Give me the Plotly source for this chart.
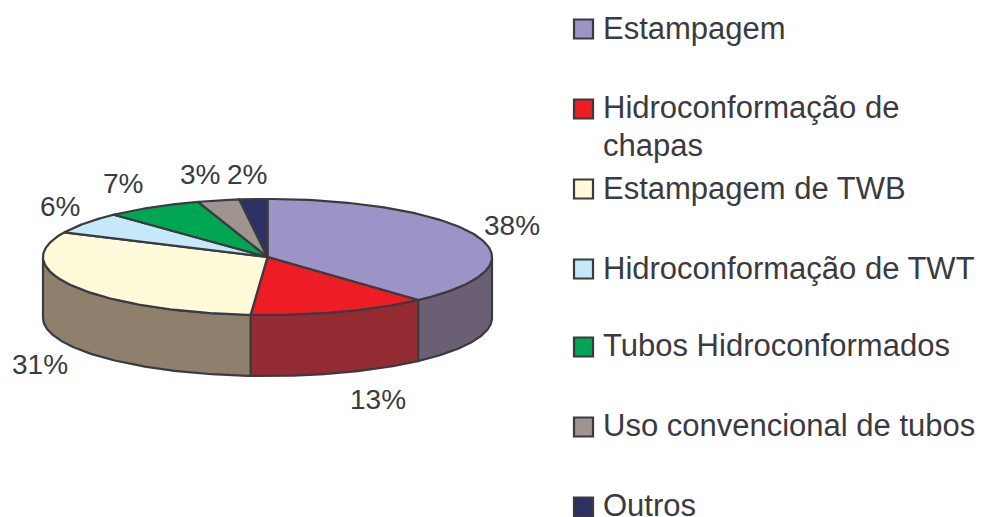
import numpy as np
import plotly.graph_objects as go

categories = ["Estampagem", "Hidroconformação de<br>chapas", "Estampagem de TWB",
              "Hidroconformação de TWT", "Tubos Hidroconformados",
              "Uso convencional de tubos", "Outros"]
values = [38.3, 12.9, 30.8, 6, 7, 3, 2]

top_colors = ["#9C94C6", "#EE1C25", "#FFFADA", "#C6E9FA", "#00A651", "#A09490", "#2E3063"]
wall_colors = ["#6B5F73", "#952B32", "#8F7F6D", "#8F7F6D", "#8F7F6D", "#8F7F6D", "#8F7F6D"]
INK = "#3A3A40"
FONT = "Liberation Sans"
FS = 31
LINE_GAP = 38

CX, CY, RX, RY, DEPTH = 267.5, 257, 224.5, 58, 61
label_pos = [(512, 225), (378, 399), (40, 364), (60, 206), (123, 183), (200, 174), (247, 174)]
legend_y = [29, 109, 189, 269, 347, 427, 507]
legend_text_y = [28, 107, 188, 268, 345, 425, 505]


def arc(a0, a1, dy=0.0, n=120):
    t = np.radians(np.linspace(a0, a1, n))
    return CX + RX * np.sin(t), CY - RY * np.cos(t) + dy


fig = go.Figure()
line = dict(color=INK, width=2.2)
edges = 360 * np.cumsum([0] + values) / sum(values)

# front walls
for i in range(len(values)):
    a0, a1 = max(edges[i], 90), min(edges[i + 1], 270)
    if a1 <= a0:
        continue
    xt, yt = arc(a0, a1)
    xb, yb = arc(a1, a0, DEPTH)
    fig.add_trace(go.Scatter(x=list(xt) + list(xb) + [xt[0]], y=list(yt) + list(yb) + [yt[0]],
                             mode="lines", fill="toself", fillcolor=wall_colors[i], line=line,
                             hoverinfo="skip", showlegend=False))
# top slices
for i in range(len(values)):
    xt, yt = arc(edges[i], edges[i + 1])
    fig.add_trace(go.Scatter(x=[CX] + list(xt) + [CX], y=[CY] + list(yt) + [CY],
                             mode="lines", fill="toself", fillcolor=top_colors[i], line=line,
                             hoverinfo="skip", showlegend=False))
# legend swatches
fig.add_trace(go.Scatter(x=[583.5] * len(values), y=legend_y, mode="markers",
                         marker=dict(symbol="square", size=19, color=top_colors,
                                     line=dict(color=INK, width=2.2)),
                         hoverinfo="skip", showlegend=False))

ann = []
for v, (x, y) in zip(values, label_pos):
    ann.append(dict(x=x, y=y, text=f"{v:.0f}%", showarrow=False, xanchor="center", yanchor="middle",
                    font=dict(family=FONT, size=28, color=INK)))
for c, y in zip(categories, legend_text_y):
    for k, part in enumerate(c.split("<br>")):
        ann.append(dict(x=601, y=y + k * LINE_GAP, text=part, showarrow=False, xanchor="left",
                        yanchor="middle", align="left",
                        font=dict(family=FONT, size=FS, color=INK)))

fig.update_layout(width=989, height=517, margin=dict(l=0, r=0, t=0, b=0),
                  paper_bgcolor="white", plot_bgcolor="white", annotations=ann,
                  xaxis=dict(range=[0, 989], visible=False, fixedrange=True),
                  yaxis=dict(range=[517, 0], visible=False, fixedrange=True))
fig.write_html("out.html", config={"displayModeBar": False},
               post_script="document.body.style.margin='0';document.body.style.overflow='hidden';")
